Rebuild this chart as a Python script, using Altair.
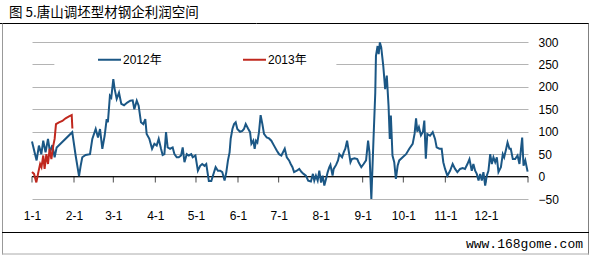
import altair as alt
import pandas as pd

# ---------------- data (day-of-year offset from 1-1, profit value) ----------------
days_2012 = [
    0, 1.9, 3.4, 5.1, 6.9, 8.3, 10, 11.8, 13.3, 15, 16.7, 18.2, 29.7,
    32.2, 34.7, 35.9, 37.1, 39.6, 42.8, 44.5, 47, 48.7, 50.2, 51.9, 53.6, 55.1, 56, 57.5, 58.5,
    60, 61, 62.5, 64.2, 65.9, 67.9, 70.3, 72.5, 74.3, 75.5, 77.3, 78.7, 80.4, 82.1, 83.6, 84.6, 86.6, 88.6, 90.3,
    92, 93.5, 95.2, 96.4, 97.7, 98.9, 100.1, 101.9, 103.8, 105.1, 106.8, 108.3, 110, 111.2, 112.5, 114.2, 115.7, 117.5, 118.6, 120.6,
    122.4, 124.1, 125.6, 127.3, 128.6, 130.5, 132.3, 133.5, 135.5, 137.2, 138.9, 140.4, 142.1, 143.4, 144.6, 145.8, 146.6, 147.9, 149.1, 150.3,
    151.5, 153.5, 155.2, 156.4, 157.7, 159.4, 160.9, 161.9, 163.3, 164.3, 165.3, 166.3, 167.5, 168.7, 170, 171.2, 173.2, 174.9, 176.6, 178.6, 180.6,
    182.3, 184, 185.5, 186.5, 188, 189.7, 190.9, 192.2, 193.4, 195.4, 197.2, 198.9, 200.4, 202.1, 203.8, 205.8, 207.3, 208.3, 209.5, 210.8,
    212, 213.3, 214.5, 215.7, 217, 218.2, 219.4, 220.2, 221.8, 222.6, 224.4, 225.8, 226.8, 228.8, 230, 231.2, 232.5, 235, 236, 238, 240, 241, 243,
    244.7, 246.5, 248, 249, 250.4, 252, 253.3, 253.8, 255, 255.8, 256.7, 257.7, 259.2, 260.6, 261.8, 263.1, 264, 264.8, 266, 267.3, 268.5, 269.8, 271, 273.5,
    276, 278.4, 280.9, 282.3, 283.4, 284.3, 285.5, 287, 288.5, 289.5, 290.6, 291.7, 293.7, 295.7, 297.4, 298.6, 300.6, 302.3, 303.5, 304.8,
    306.5, 308.5, 310.4, 312.2, 313.9, 315.9, 317.8, 319.5, 321.3, 322.8, 324.5, 325.7, 327, 328.2, 329.5, 330.7, 331.9, 333.1,
    334.4, 335.6, 336.8, 338.1, 339.3, 340.5, 341.8, 343, 344.2, 346, 347.4, 348.4, 349.9, 350.9, 352.3, 353.3, 354.8, 356.5, 358.3, 359.7, 360.7, 361.7, 362.7, 364, 365.7,
]
profit_2012 = [
    78, 54, 36, 69, 50, 80, 54, 84, 54, 70, 43, 65, 99,
    47, 1, 24, 43, 48, 50, 84, 106, 87, 106, 62, 91, 128, 121, 180, 176,
    217, 195, 173, 187, 162, 159, 165, 169, 170, 150, 169, 158, 121, 117, 128, 95, 84, 62, 73,
    69, 84, 62, 48, 50, 99, 65, 62, 65, 50, 43, 43, 47, 65, 32, 50, 47, 50, 43, 47,
    13, 24, 28, 24, 28, -10, -10, 2, 21, 13, 13, 10, -9, 10, 36, 54, 84, 106, 117, 121,
    106, 100, 102, 106, 117, 107, 99, 73, 80, 62, 80, 76, 99, 137, 117, 95, 87, 85, 80, 69, 58,
    50, 47, 56, 62, 43, 36, 28, 21, 10, 13, 17, 10, 6, 2, -9, -11, 6, -9, 2, -9,
    13, -13, 2, -20, -5, 10, 21, 26, 2, 17, 26, 36, 50, 43, 54, 62, 80, 32, 39, 41, 39, 32, 21,
    28, 36, 80, 54, -50, 84, 187, 269, 291, 273, 299, 288, 247, 195, 225, 158, 84, 136, 47, 32, -5, 24, 36, 43,
    50, 62, 73, 95, 130, 100, 110, 92, 100, 125, 40, 95, 91, 99, 84, 65, 62, 62, 32, 17,
    2, 13, 28, 17, 10, 17, 19, 17, 28, 39, 13, 28, 13, 6, -9, 6, -9, 10,
    -20, 2, 13, 50, 28, 43, 32, 43, 10, 21, 50, 43, 62, 76, 62, 62, 39, 39, 47, 28, 58, 87, 24, 36, 11,
]
days_2013 = [0, 1.5, 3.2, 4.7, 6, 7, 8.3, 9.3, 10.6, 11.8, 13, 14.3, 15.7, 16.7, 17.7, 19.9, 22.4, 24.8, 27.3, 29.3, 29.8]
profit_2013 = [10, 6, -13, 10, 28, 21, 47, 17, 50, 28, 62, 39, 69, 84, 117, 121, 124, 130, 134, 137, 107]

series_names = ["2012年", "2013年"]
series_colors = ["#1b5785", "#c0281e"]
month_days = [0, 31, 60, 91, 121, 152, 182, 213, 244, 274, 305, 335, 366]
month_labels = ["1-1", "2-1", "3-1", "4-1", "5-1", "6-1", "7-1", "8-1", "9-1", "10-1", "11-1", "12-1"]
y_ticks = [-50, 0, 50, 100, 150, 200, 250, 300]
title_text = "图 5.唐山调坯型材钢企利润空间"
footer_text = "www.168gome.com"

# ---------------- tables ----------------
df = pd.concat([
    pd.DataFrame({"day": days_2012, "profit": profit_2012, "series": series_names[0]}),
    pd.DataFrame({"day": days_2013, "profit": profit_2013, "series": series_names[1]}),
], ignore_index=True)
ticks_df = pd.DataFrame({"day": month_days, "profit": 0})
zero_df = pd.DataFrame({"profit": [0]})
legend_bg_df = pd.DataFrame({"day": [16.5], "day_end": [224.6], "profit": [282], "profit_end": [228]})
one = pd.DataFrame({"k": [0]})

FONT = "Liberation Sans, Noto Sans CJK SC, sans-serif"
CJK = "Noto Sans CJK SC, sans-serif"

x_scale = alt.Scale(domain=[0, 366], nice=False, zero=False)
y_scale = alt.Scale(domain=[-50, 300], nice=False, zero=False)

label_expr = ("[" + ",".join(f"'{l}'" for l in month_labels) + "][indexof(["
              + ",".join(str(d) for d in month_days[:12]) + "], datum.value)]")

x_axis = alt.Axis(values=month_days[:12], labelExpr=label_expr, domain=False, ticks=False,
                  grid=False, labelPadding=11, labelFontSize=12, labelFont=FONT,
                  labelColor="#000000", labelFlush=False, labelOverlap=False)
y_axis = alt.Axis(orient="right", values=y_ticks, domain=False, ticks=False, grid=True,
                  gridColor="#b4b4b4", gridWidth=1, labelPadding=10, labelFontSize=12,
                  labelFont=FONT, labelColor="#000000", labelOverlap=False,
                  labelFlush=False, labelBound=False, tickCount=len(y_ticks))


def X(field):
    return alt.X(field, type="quantitative", scale=x_scale, axis=x_axis, title=None)


def Y(field):
    return alt.Y(field, type="quantitative", scale=y_scale, axis=y_axis, title=None)


legend_bg = alt.Chart(legend_bg_df).mark_rect(color="white").encode(
    x=X("day"), x2="day_end", y=Y("profit"), y2="profit_end",
)

zero_rule = alt.Chart(zero_df).mark_rule(color="#000000", strokeWidth=1).encode(
    y=Y("profit")
)

month_ticks = alt.Chart(ticks_df).mark_tick(color="#000000", orient="vertical", size=6,
                                            thickness=1, yOffset=3).encode(
    x=X("day"), y=Y("profit"),
)

lines = alt.Chart(df).mark_line(strokeWidth=2).encode(
    x=X("day"),
    y=Y("profit"),
    color=alt.Color("series:N",
                    scale=alt.Scale(domain=series_names, range=series_colors),
                    legend=alt.Legend(orient="none", legendX=65, legendY=5,
                                      direction="horizontal", title=None,
                                      symbolType="stroke", symbolSize=529,
                                      symbolStrokeWidth=2, labelFontSize=12,
                                      labelFont=FONT, labelColor="#000000",
                                      labelOffset=1, columnPadding=77)),
    order=alt.Order("day:Q"),
)


def hrule(y, x0, x1, color):
    return alt.Chart(one).mark_rule(color=color, strokeWidth=1).encode(
        y=alt.value(y), x=alt.value(x0), x2=alt.value(x1))


def vrule(x, y0, y1, color):
    return alt.Chart(one).mark_rule(color=color, strokeWidth=1).encode(
        x=alt.value(x), y=alt.value(y0), y2=alt.value(y1))


frame = [
    hrule(-18.5, -32, 557, "#000000"),
    vrule(-29.5, -18.5, 212.5, "#999999"),
    vrule(556.5, -18.5, 212.5, "#808080"),
    hrule(190.5, -30, 557, "#000000"),
    hrule(212, -30, 557, "#aaaaaa"),
]

title = alt.Chart(one).mark_text(text=title_text, align="left", baseline="alphabetic",
                                 fontSize=13.5, font=CJK, color="#000000").encode(
    x=alt.value(-23), y=alt.value(-25))

footer = alt.Chart(one).mark_text(text=footer_text, align="right", baseline="alphabetic",
                                  fontSize=13, font="Liberation Mono", color="#000000").encode(
    x=alt.value(551), y=alt.value(206))

chart = alt.layer(legend_bg, zero_rule, month_ticks, lines, *frame, title, footer).properties(
    width=496, height=157,
    padding={"left": 32, "top": 42, "right": 64, "bottom": 56},
    autosize=alt.AutoSizeParams(type="none"),
).configure_view(strokeWidth=0).configure_axis(labelOverlap=False)

chart.save("out.html", embed_options={"renderer": "svg", "actions": False})
